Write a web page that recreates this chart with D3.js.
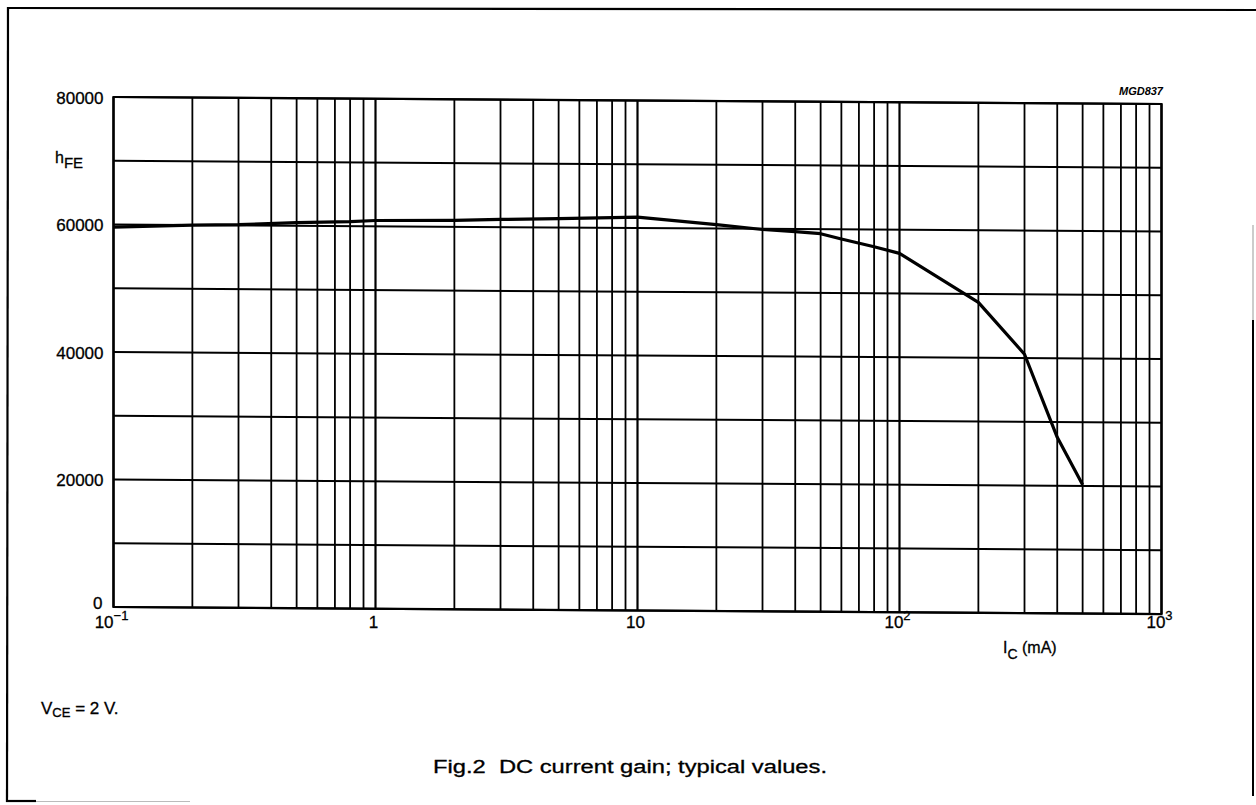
<!DOCTYPE html>
<html><head><meta charset="utf-8">
<script src="https://cdn.jsdelivr.net/npm/d3@7"></script>
<style>
body{margin:0;background:#fff}
text{font-family:"Liberation Sans",Arial,Helvetica,sans-serif;fill:#000}
</style>
</head><body>
<svg id="c" width="1256" height="805"></svg>
<script>
// ---- data ----
const icValues  = [0.1, 0.2, 0.3, 0.5, 0.8, 1, 2, 3, 5, 8, 10, 20, 30, 40, 50, 60, 80, 100, 200, 300, 400, 500];
const hfeValues = [59600, 60000, 60100, 60500, 60700, 60900, 61000, 61200, 61400, 61600, 61700, 60600, 59900, 59600, 59300, 58500, 57300, 56300, 48700, 40600, 27600, 20200];
const yTickValues = [0, 20000, 40000, 60000, 80000];
const yGridValues = [0, 10000, 20000, 30000, 40000, 50000, 60000, 70000, 80000];
const xTickValues = [0.1, 1, 10, 100, 1000];
const xTickBase   = ["10", "1", "10", "10", "10"];
const xTickSup    = ["\u22121", "", "", "2", "3"];

const svg = d3.select("#c");
const X0 = 113.5, X1 = 1161.5, YB = 607, YT = 97;
const x = d3.scaleLog().domain([0.1, 1000]).range([X0, X1]);
const y = d3.scaleLinear().domain([0, 80000]).range([YB, YT]);

// outer frame (partial, as scanned)
const frame = svg.append("g").attr("stroke", "#000").attr("fill", "none");
frame.append("line").attr("x1", 9).attr("y1", 8).attr("x2", 1256).attr("y2", 10).attr("stroke-width", 2.2);
frame.append("line").attr("x1", 8).attr("y1", 7).attr("x2", 7).attr("y2", 802).attr("stroke-width", 2.2);
frame.append("line").attr("x1", 6).attr("y1", 801).attr("x2", 36).attr("y2", 801).attr("stroke-width", 2.2);
frame.append("line").attr("x1", 36).attr("y1", 801.5).attr("x2", 190).attr("y2", 801.5).attr("stroke-width", 1).attr("stroke", "#bbb");
frame.append("line").attr("x1", 1253).attr("y1", 225).attr("x2", 1253).attr("y2", 320).attr("stroke-width", 1).attr("stroke", "#999");
frame.append("line").attr("x1", 1253).attr("y1", 320).attr("x2", 1253).attr("y2", 796).attr("stroke-width", 2);

// plot group, slightly skewed like the scan
const skew = Math.atan(0.0067) * 180 / Math.PI;
const g = svg.append("g")
  .attr("transform", `translate(${X0},0) skewY(${skew}) translate(${-X0},0)`);

// vertical grid (log minor lines)
g.append("g").selectAll("line").data(x.ticks())
  .join("line")
  .attr("x1", d => x(d)).attr("x2", d => x(d))
  .attr("y1", YT).attr("y2", YB)
  .attr("stroke", "#000")
  .attr("stroke-width", d => (Math.abs(Math.log10(d) - Math.round(Math.log10(d))) < 1e-9) ? 2.2 : 1.8);

// horizontal grid
g.append("g").selectAll("line").data(yGridValues)
  .join("line")
  .attr("x1", X0).attr("x2", X1)
  .attr("y1", d => y(d)).attr("y2", d => y(d))
  .attr("stroke", "#000").attr("stroke-width", 2);

// frame of plot
g.append("rect").attr("x", X0).attr("y", YT).attr("width", X1 - X0).attr("height", YB - YT)
  .attr("fill", "none").attr("stroke", "#000").attr("stroke-width", 2.2);

// curve
const line = d3.line().x((d, i) => x(icValues[i])).y(d => y(d));
g.append("path").datum(hfeValues).attr("d", line)
  .attr("fill", "none").attr("stroke", "#000").attr("stroke-width", 3.2)
  .attr("stroke-linejoin", "round");

// y axis labels via d3 axis
const yAxis = d3.axisLeft(y).tickValues(yTickValues).tickSize(0).tickPadding(10)
  .tickFormat(d3.format("d"));
const ya = svg.append("g").attr("transform", `translate(${X0},0)`).call(yAxis);
ya.select(".domain").remove();
ya.selectAll("text").attr("font-size", 17).attr("font-family", "Liberation Sans, Arial, sans-serif")
  .attr("dy", "0.36em").attr("stroke", "#000").attr("stroke-width", 0.3);
ya.selectAll("text").filter(d => d === 0).attr("dy", "0.1em").attr("dx", "-1");

// x axis labels (with superscripts)
const xl = svg.append("g");
xTickValues.forEach((v, i) => {
  const t = xl.append("text")
    .attr("x", x(v) - 2).attr("y", 628)
    .attr("text-anchor", "middle")
    .attr("font-size", 17).attr("stroke", "#000").attr("stroke-width", 0.3);
  t.append("tspan").text(xTickBase[i]);
  if (xTickSup[i]) t.append("tspan").attr("dy", -8).attr("font-size", 13).text(xTickSup[i]);
});

// axis titles
const hfe = svg.append("text").attr("x", 55).attr("y", 163).attr("font-size", 16)
  .attr("stroke", "#000").attr("stroke-width", 0.3);
hfe.append("tspan").text("h");
hfe.append("tspan").attr("dy", 5).attr("font-size", 15).text("FE");

const ic = svg.append("text").attr("x", 1003).attr("y", 653).attr("font-size", 16)
  .attr("stroke", "#000").attr("stroke-width", 0.3);
ic.append("tspan").text("I");
ic.append("tspan").attr("dy", 6).attr("font-size", 14).text("C");
ic.append("tspan").attr("dy", -6).text(" (mA)");

svg.append("text").attr("x", 1163).attr("y", 95).attr("text-anchor", "end")
  .attr("font-size", 11).attr("font-style", "italic").attr("font-weight", "bold").text("MGD837");

const vce = svg.append("text").attr("x", 41).attr("y", 714).attr("font-size", 17)
  .attr("stroke", "#000").attr("stroke-width", 0.3);
vce.append("tspan").text("V");
vce.append("tspan").attr("dy", 3).attr("font-size", 13).text("CE");
vce.append("tspan").attr("dy", -3).text(" = 2 V.");

svg.append("text").attr("x", 433).attr("y", 773)
  .attr("font-size", 18).attr("stroke", "#000").attr("stroke-width", 0.3)
  .attr("textLength", 394).attr("lengthAdjust", "spacingAndGlyphs")
  .attr("xml:space", "preserve").text("Fig.2  DC current gain; typical values.");
</script>
</body></html>
